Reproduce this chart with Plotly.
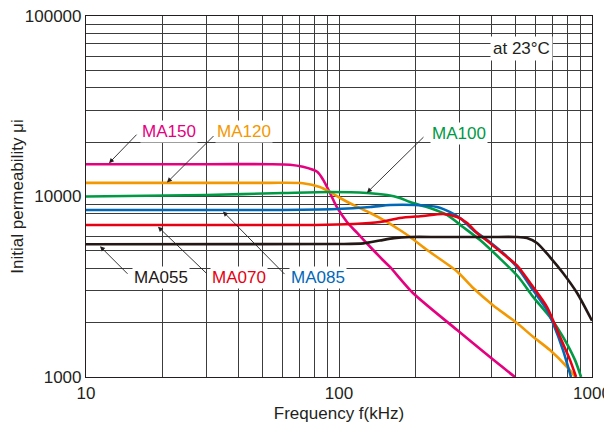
import math
import plotly.graph_objects as go

# ---------------- data ----------------
x_tick_vals = [10, 100, 1000]
x_tick_text = ["10", "100", "1000"]
y_tick_vals = [1000, 10000, 100000]
y_tick_text = ["1000", "10000", "100000"]

f_ma150 = [10, 30, 53, 64, 72, 82, 86.5, 92, 98, 107.5, 118, 133, 149, 159, 196, 293, 395, 496]
mu_ma150 = [15100, 15100, 15100, 15000, 14600, 13700, 12400, 10500, 8750, 7220, 6280, 5250, 4450, 4070, 2920, 1820, 1290, 1000]

f_ma120 = [10, 30, 53, 72, 84, 92, 101, 114, 133, 155, 174, 191, 223, 293, 339, 406, 505, 585, 682, 797, 860]
mu_ma120 = [11900, 11900, 11900, 11850, 11300, 10600, 9810, 8970, 8100, 7220, 6520, 5965, 5050, 3840, 3110, 2500, 1990, 1670, 1410, 1136, 1000]

f_ma100 = [10, 30, 60, 92, 129, 155, 174, 191, 229, 267, 309, 361, 433, 512, 585, 682, 768, 857, 905]
mu_ma100 = [10000, 10200, 10450, 10590, 10460, 10190, 9810, 9320, 8640, 7900, 6780, 5740, 4530, 3580, 2780, 2150, 1670, 1240, 1000]

f_ma085 = [10, 53, 98, 133, 159, 200, 244, 275, 301, 339, 385, 445, 505, 585, 664, 701, 768, 826]
mu_ma085 = [8420, 8420, 8530, 8750, 8970, 8970, 8750, 8200, 7600, 6520, 5740, 4860, 4070, 3030, 2350, 1990, 1410, 1000]

f_ma070 = [10, 80, 114, 145, 174, 215, 258, 293, 321, 351, 395, 461, 505, 585, 664, 747, 819, 865]
mu_ma070 = [6950, 6950, 7040, 7220, 7600, 7800, 8000, 7700, 7130, 6280, 5530, 4620, 4150, 3150, 2440, 1670, 1240, 1000]

f_ma055 = [10, 100, 125, 145, 165, 191, 251, 395, 500, 553, 606, 682, 768, 873, 1000]
mu_ma055 = [5440, 5455, 5500, 5700, 5880, 5965, 5965, 5965, 5965, 5890, 5530, 4620, 3770, 2920, 2050]

series_names = ["MA150", "MA120", "MA100", "MA085", "MA070", "MA055"]
series_colors = ["#e4007f", "#f39800", "#009944", "#0068b7", "#e60012", "#231815"]
series_f = [f_ma150, f_ma120, f_ma100, f_ma085, f_ma070, f_ma055]
series_mu = [mu_ma150, mu_ma120, mu_ma100, mu_ma085, mu_ma070, mu_ma055]

# label anchor (f, mu) and arrow head (f, mu) plus arrow offset in px
label_pos = {
    "MA150": (21.3, 23060), "MA120": (42.1, 23060), "MA100": (298, 22480),
    "MA055": (19.8, 3581), "MA070": (40.2, 3581), "MA085": (82.6, 3581),
}
arrow_head = {
    "MA150": (12.33, 15300), "MA120": (20.9, 11950), "MA100": (129, 10500),
    "MA055": (11.36, 5300), "MA070": (19.25, 6800), "MA085": (34.8, 8250),
}
arrow_off = {
    "MA150": (29, -30), "MA120": (48, -48), "MA100": (58, -57),
    "MA055": (29, 29), "MA070": (50, 48), "MA085": (63, 64),
}

FONT = "Liberation Sans, Arial, Helvetica, sans-serif"
TXT = "#231f20"
GRID = "#3c3c3c"

fig = go.Figure()
for name, col, fx, my in zip(series_names, series_colors, series_f, series_mu):
    fig.add_trace(go.Scatter(
        x=fx, y=my, mode="lines", name=name,
        line=dict(color=col, width=2.6, shape="spline", smoothing=0.7),
        showlegend=False, hoverinfo="skip"))

annotations = []
for name, col in zip(series_names, series_colors):
    hf, hm = arrow_head[name]
    ax, ay = arrow_off[name]
    annotations.append(dict(
        x=math.log10(hf), y=math.log10(hm), xref="x", yref="y",
        text="", showarrow=True, ax=ax, ay=ay, axref="pixel", ayref="pixel",
        arrowhead=2, arrowsize=1.1, arrowwidth=0.9, arrowcolor="#231f20"))
    lf, lm = label_pos[name]
    annotations.append(dict(
        x=math.log10(lf), y=math.log10(lm), xref="x", yref="y",
        text=name, showarrow=False, bgcolor="white", borderpad=1,
        font=dict(family=FONT, size=17, color=col)))

annotations.append(dict(
    x=0.923, y=0.9446, xref="paper", yref="paper", text="at 23°C",
    showarrow=False, bgcolor="white", borderpad=2,
    font=dict(family=FONT, size=17, color=TXT)))

# page body has an 8px default margin: offset the figure so the plot area lines up
fig.update_layout(
    width=612, height=418,
    margin=dict(l=78, r=28, t=8, b=49),
    paper_bgcolor="white", plot_bgcolor="white",
    font=dict(family=FONT, size=17, color=TXT),
    annotations=annotations,
)
fig.update_xaxes(
    type="log", range=[1, 3], tickmode="array",
    tickvals=x_tick_vals, ticktext=x_tick_text, automargin="bottom",
    ticklabeloverflow="allow",
    showgrid=True, gridcolor=GRID, gridwidth=1,
    minor=dict(dtick="D1", showgrid=True, gridcolor=GRID, gridwidth=1, ticks=""),
    showline=True, mirror=True, linecolor="#231f20", linewidth=1.2,
    ticks="", ticklabelstandoff=0,
    title=dict(text="Frequency f(kHz)", font=dict(size=17), standoff=5),
    zeroline=False,
)
fig.update_yaxes(
    type="log", range=[3, 5], tickmode="array",
    tickvals=y_tick_vals, ticktext=y_tick_text, automargin=False,
    ticklabeloverflow="allow",
    showgrid=True, gridcolor=GRID, gridwidth=1,
    minor=dict(dtick="D1", showgrid=True, gridcolor=GRID, gridwidth=1, ticks=""),
    showline=True, mirror=True, linecolor="#231f20", linewidth=1.2,
    ticks="", ticklabelstandoff=0,
    title=dict(text="Initial permeability μi", font=dict(size=17)),
    zeroline=False,
)

fig.write_html("out.html")
